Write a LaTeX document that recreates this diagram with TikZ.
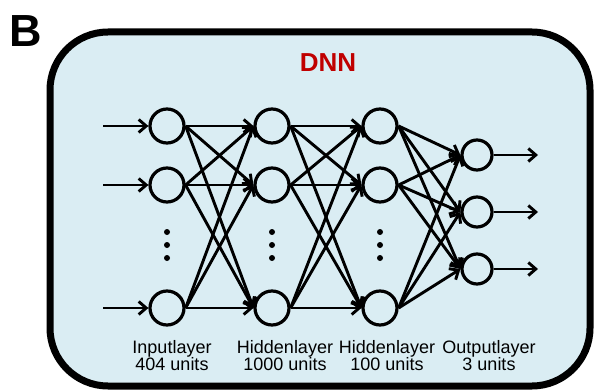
\documentclass[tikz,border=0pt]{standalone}
\usepackage{fontspec}
\setmainfont{Liberation Sans}
\usetikzlibrary{arrows.meta}
\definecolor{panelfill}{HTML}{DAEDF3}
\definecolor{titlered}{HTML}{C00000}
\begin{document}
\begin{tikzpicture}[x=1pt,y=-1pt,
  neuron/.style={circle,draw,line width=3.2pt,minimum size=34pt,inner sep=0pt},
  outneuron/.style={neuron,minimum size=30pt},
  link/.style={line width=2.9pt,-{Straight Barb[length=7.5pt,width=13pt]}},
  dotmark/.style={circle,fill,inner sep=0pt,minimum size=6pt},
  caption/.style={font=\fontsize{18}{17}\selectfont,align=center,anchor=base,inner sep=0pt}]
\useasboundingbox (0,0) rectangle (596,390);
% panel
\draw[line width=7pt,fill=panelfill,rounded corners=58pt] (50,32) rectangle (590,386);
\node[font=\bfseries\fontsize{45}{45}\selectfont,anchor=base,inner sep=0pt] (lbl) at (26,47) {B};
\node[font=\bfseries\fontsize{26}{26}\selectfont,text=titlered,anchor=base,inner sep=0pt] (title) at (328,72) {DNN};
% layers
\foreach \n/\x in {i/167,a/272,b/380}{
  \node[neuron] (\n1) at (\x,126) {};
  \node[neuron] (\n2) at (\x,185) {};
  \node[neuron] (\n3) at (\x,308) {};
  \node[dotmark] (\n d1) at (\x,232) {};
  \node[dotmark] (\n d2) at (\x,245) {};
  \node[dotmark] (\n d3) at (\x,258) {};
}
\node[outneuron] (o1) at (477,155) {};
\node[outneuron] (o2) at (477,212) {};
\node[outneuron] (o3) at (477,269) {};
% inputs and outputs
\foreach \k/\y in {1/126,2/185,3/308}{
  \coordinate (in\k) at (103,\y);
  \draw[link] (in\k) -- (i\k.west);
}
\foreach \k/\y in {1/155,2/212,3/269}{
  \coordinate (out\k) at (538,\y);
  \draw[link] (o\k.east) -- (out\k);
}
% full connections, right side of one unit to left side of the next
\foreach \s/\t in {i/a,a/b,b/o}{
  \foreach \p in {1,2,3}{
    \foreach \q in {1,2,3}{
      \draw[link] (\s\p.east) -- (\t\q.west);
    }
  }
}
% captions (base anchor sits on the last line)
\node[caption] (ci) at (172,370) {Inputlayer\\404 units};
\node[caption] (ca) at (285,370) {Hiddenlayer\\1000 units};
\node[caption] (cb) at (387,370) {Hiddenlayer\\100 units};
\node[caption] (co) at (489,370) {Outputlayer\\3 units};
\end{tikzpicture}
\end{document}
